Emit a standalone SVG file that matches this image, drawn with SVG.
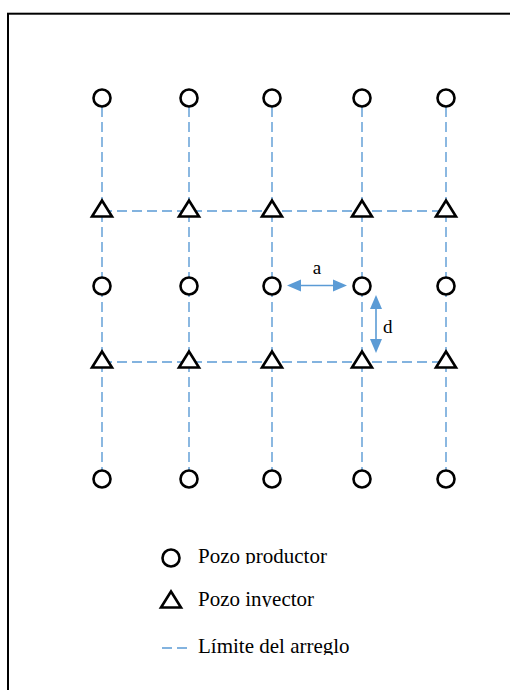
<svg xmlns="http://www.w3.org/2000/svg" width="510" height="690" viewBox="0 0 510 690">
<style>
.prod{fill:#fff;stroke:#000;stroke-width:2.6}
.inj{fill:#fff;stroke:#000;stroke-width:2.6;stroke-linejoin:miter}
.bnd{stroke:#5b9bd5;stroke-width:1.4;stroke-dasharray:10,5;fill:none}
.arr{stroke:#5b9bd5;stroke-width:1.6;fill:none}
.ah{fill:#5b9bd5}
.lbl{font-size:19px}
.leg{font-size:21px}
</style>
<defs>
<circle id="c" r="8.5" class="prod"/>
<polygon id="t" points="0,-8.5 10,7.5 -10,7.5" class="inj"/>
<clipPath id="k1"><rect x="190" y="540" width="200" height="24"/></clipPath>
<clipPath id="k2"><rect x="190" y="584" width="200" height="23"/></clipPath>
<clipPath id="k3"><rect x="190" y="630" width="200" height="25"/></clipPath>
</defs>
<rect x="8" y="13.7" width="520" height="700" fill="none" stroke="#000" stroke-width="2"/>
<g id="connectors">
<line class="bnd" x1="102" y1="107" x2="102" y2="470"/>
<line class="bnd" x1="189" y1="107" x2="189" y2="470"/>
<line class="bnd" x1="272" y1="107" x2="272" y2="470"/>
<line class="bnd" x1="362" y1="107" x2="362" y2="470"/>
<line class="bnd" x1="446" y1="107" x2="446" y2="470"/>
<line class="bnd" x1="102" y1="211" x2="446" y2="211"/>
<line class="bnd" x1="102" y1="362" x2="446" y2="362"/>
<g id="arrow-a">
<line class="arr" x1="298" y1="285.5" x2="336" y2="285.5"/>
<polygon class="ah" points="287,285.5 301,279.5 301,291.5"/>
<polygon class="ah" points="347,285.5 333,279.5 333,291.5"/>
</g>
<g id="arrow-d">
<line class="arr" x1="376" y1="306" x2="376" y2="342"/>
<polygon class="ah" points="376,295 370,309 382,309"/>
<polygon class="ah" points="376,353 370,339 382,339"/>
</g>
</g>
<g id="row1">
<g id="p11"><use href="#c" x="102" y="98"/></g>
<g id="p12"><use href="#c" x="189" y="98"/></g>
<g id="p13"><use href="#c" x="272" y="98"/></g>
<g id="p14"><use href="#c" x="362" y="98"/></g>
<g id="p15"><use href="#c" x="446" y="98"/></g>
</g>
<g id="row2">
<g id="i21"><use href="#t" x="102" y="209"/></g>
<g id="i22"><use href="#t" x="189" y="209"/></g>
<g id="i23"><use href="#t" x="272" y="209"/></g>
<g id="i24"><use href="#t" x="362" y="209"/></g>
<g id="i25"><use href="#t" x="446" y="209"/></g>
</g>
<g id="row3">
<g id="p31"><use href="#c" x="102" y="286"/></g>
<g id="p32"><use href="#c" x="189" y="286"/></g>
<g id="p33"><use href="#c" x="272" y="286"/></g>
<g id="p34"><use href="#c" x="362" y="286"/></g>
<g id="p35"><use href="#c" x="446" y="286"/></g>
</g>
<g id="row4">
<g id="i41"><use href="#t" x="102" y="360"/></g>
<g id="i42"><use href="#t" x="189" y="360"/></g>
<g id="i43"><use href="#t" x="272" y="360"/></g>
<g id="i44"><use href="#t" x="362" y="360"/></g>
<g id="i45"><use href="#t" x="446" y="360"/></g>
</g>
<g id="row5">
<g id="p51"><use href="#c" x="102" y="479"/></g>
<g id="p52"><use href="#c" x="189" y="479"/></g>
<g id="p53"><use href="#c" x="272" y="479"/></g>
<g id="p54"><use href="#c" x="362" y="479"/></g>
<g id="p55"><use href="#c" x="446" y="479"/></g>
</g>
<g id="labels" font-family="'Liberation Serif', 'Times New Roman', serif" fill="#000">
<text class="lbl" x="317" y="274" text-anchor="middle">a</text>
<text class="lbl" x="383" y="333">d</text>
</g>
<g id="legend" font-family="'Liberation Serif', 'Times New Roman', serif" fill="#000">
<g id="leg-prod"><use href="#c" x="171" y="558"/>
<text class="leg" x="198" y="563" clip-path="url(#k1)">Pozo productor</text></g>
<g id="leg-inj"><use href="#t" x="171" y="600"/>
<text class="leg" x="198" y="606" clip-path="url(#k2)">Pozo inyector</text></g>
<g id="leg-bnd"><line class="bnd" x1="162" y1="648" x2="188" y2="648" stroke-dasharray="10,6"/>
<text class="leg" x="198" y="653" clip-path="url(#k3)">Límite del arreglo</text></g>
</g>
</svg>
